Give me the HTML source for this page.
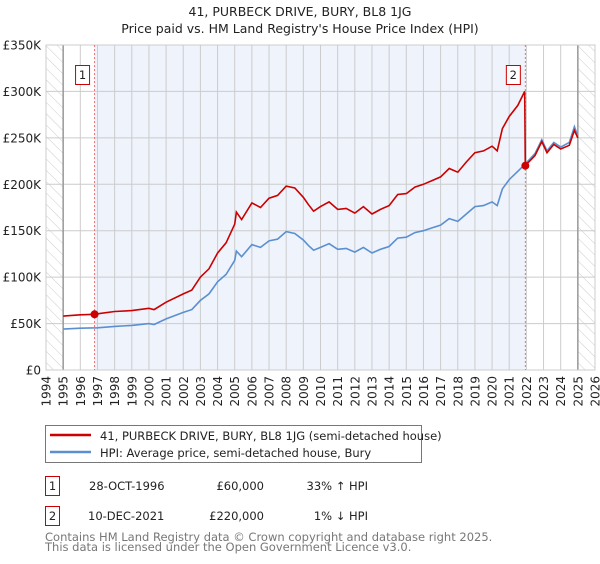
<!DOCTYPE html>
<html><head><meta charset="utf-8"><style>
body{margin:0;background:#fff;font-family:"DejaVu Sans","Liberation Sans",sans-serif;}
svg text{font-family:"DejaVu Sans","Liberation Sans",sans-serif;}
</style></head><body>
<svg id="chart" width="600" height="560" xmlns="http://www.w3.org/2000/svg">
<defs><pattern id="hatch" width="8" height="8" patternUnits="userSpaceOnUse" patternTransform="rotate(-45)"><line x1="0" y1="0" x2="0" y2="8" stroke="#ccc" stroke-width="1"/></pattern></defs>
<text x="300" y="16" text-anchor="middle" font-size="12.5" fill="#222">41, PURBECK DRIVE, BURY, BL8 1JG</text>
<text x="300" y="33" text-anchor="middle" font-size="12.5" fill="#222">Price paid vs. HM Land Registry's House Price Index (HPI)</text>
<g id="plot"></g>
<g>
<rect x="45.5" y="425.5" width="376" height="37" fill="#fff" stroke="#777"/>
<line x1="50" y1="435" x2="91" y2="435" stroke="#cc0000" stroke-width="2.5"/>
<text x="100" y="440" font-size="11.5" fill="#222">41, PURBECK DRIVE, BURY, BL8 1JG (semi-detached house)</text>
<line x1="50" y1="452" x2="91" y2="452" stroke="#5b8fd0" stroke-width="2.5"/>
<text x="100" y="457" font-size="11.5" fill="#222">HPI: Average price, semi-detached house, Bury</text>
</g>
<g font-size="11.5" fill="#222">
<rect x="45.5" y="476.5" width="14" height="19" fill="#fff" stroke="#cc0000"/>
<text x="52.5" y="490" text-anchor="middle">1</text>
<text x="89" y="490">28-OCT-1996</text>
<text x="264" y="490" text-anchor="end">£60,000</text>
<text x="368" y="490" text-anchor="end">33% ↑ HPI</text>
<rect x="45.5" y="506.5" width="14" height="19" fill="#fff" stroke="#cc0000"/>
<text x="52.5" y="520" text-anchor="middle">2</text>
<text x="88" y="520">10-DEC-2021</text>
<text x="264" y="520" text-anchor="end">£220,000</text>
<text x="368" y="520" text-anchor="end">1% ↓ HPI</text>
</g>
<text x="45" y="541" font-size="11.5" fill="#777">Contains HM Land Registry data © Crown copyright and database right 2025.</text>
<text x="45" y="551" font-size="11.5" fill="#777">This data is licensed under the Open Government Licence v3.0.</text>
</svg>
<script>
const yearTicks=[1994,1995,1996,1997,1998,1999,2000,2001,2002,2003,2004,2005,2006,2007,2008,2009,2010,2011,2012,2013,2014,2015,2016,2017,2018,2019,2020,2021,2022,2023,2024,2025,2026];
const priceTicks=[0,50,100,150,200,250,300,350];
const priceLabels=["£0","£50K","£100K","£150K","£200K","£250K","£300K","£350K"];
const hpiDates=[1995,1996,1997,1998,1999,2000,2000.3,2001,2002,2002.5,2003,2003.5,2004,2004.5,2005,2005.1,2005.4,2006,2006.5,2007,2007.5,2008,2008.5,2009,2009.3,2009.6,2010,2010.5,2011,2011.5,2012,2012.5,2013,2013.5,2014,2014.5,2015,2015.5,2016,2016.5,2017,2017.5,2018,2018.5,2019,2019.5,2020,2020.3,2020.6,2021,2021.5,2021.94,2022.5,2022.9,2023.2,2023.6,2024,2024.5,2024.8,2025];
const hpiValues=[44,45,45.5,47,48,50,49,55,62,65,75,82,95,103,118,128,122,135,132,139,141,149,147,140,134,129,132,136,130,131,127,132,126,130,133,142,143,148,150,153,156,163,160,168,176,177,181,177,195,205,214,222,233,248,236,245,240,245,262,252];
const priceDates=[1995,1996,1996.83,1997,1998,1999,2000,2000.3,2001,2002,2002.5,2003,2003.5,2004,2004.5,2005,2005.1,2005.4,2006,2006.5,2007,2007.5,2008,2008.5,2009,2009.3,2009.6,2010,2010.5,2011,2011.5,2012,2012.5,2013,2013.5,2014,2014.5,2015,2015.5,2016,2016.5,2017,2017.5,2018,2018.5,2019,2019.5,2020,2020.3,2020.6,2021,2021.5,2021.9,2021.94,2022.5,2022.9,2023.2,2023.6,2024,2024.5,2024.8,2025];
const priceValues=[58,59.5,60,60.5,63,64,66.5,65,73,82,86,100,109,126,137,157,170,162,180,175,185,188,198,196,186,178,171,176,181,173,174,169,176,168,173,177,189,190,197,200,204,208,217,213,224,234,236,241,236,260,273,285,300,220,231,246,234,243,238,242,258,250];
const saleDates=[1996.83,2021.94];
const saleValues=[60,220];
const saleLabels=["1","2"];
const X0=46,X1=595,Y0=370,Y1=45;
const xs=d=>X0+(d-1994)/(2026-1994)*(X1-X0);
const ys=v=>Y0-v/350*(Y0-Y1);
const NS="http://www.w3.org/2000/svg";
const g=document.getElementById('plot');
function mk(t,a){const e=document.createElementNS(NS,t);for(const k in a)e.setAttribute(k,a[k]);g.appendChild(e);return e;}
// backgrounds
let e=mk('rect',{x:xs(saleDates[0]),y:Y1,width:xs(saleDates[1])-xs(saleDates[0]),height:Y0-Y1,fill:'#eef3fc'});


e=mk('rect',{x:X0,y:Y1,width:xs(1995)-X0,height:Y0-Y1,fill:'url(#hatch)'});


e=mk('rect',{x:xs(2025),y:Y1,width:X1-xs(2025),height:Y0-Y1,fill:'url(#hatch)'});


yearTicks.forEach(y=>{const l=mk('line',{x1:xs(y),x2:xs(y),y1:Y1,y2:Y0,stroke:'#ccc','stroke-width':1});


const t=mk('text',{x:0,y:0,'font-size':12,fill:'#222','text-anchor':'end',transform:`translate(${xs(y)+4.5},376) rotate(-90)`});
t.textContent=y;

});
priceTicks.forEach((p,i)=>{const l=mk('line',{x1:X0,x2:X1,y1:ys(p),y2:ys(p),stroke:'#ccc','stroke-width':1});


const t=mk('text',{x:41,y:ys(p)+4.5,'font-size':12,fill:'#222','text-anchor':'end'});
t.textContent=priceLabels[i];

});
e=mk('line',{x1:xs(1995),x2:xs(1995),y1:Y1,y2:Y0,stroke:'#999','stroke-width':1.5});


e=mk('line',{x1:xs(2025),x2:xs(2025),y1:Y1,y2:Y0,stroke:'#999','stroke-width':1.5});


e=mk('rect',{x:X0,y:Y1,width:X1-X0,height:Y0-Y1,fill:'none',stroke:'#ccc'});


saleDates.forEach((d,i)=>{const l=mk('line',{x1:xs(d),x2:xs(d),y1:Y1,y2:Y0,stroke:'#f07070','stroke-width':1,'stroke-dasharray':'2,2'});

});
const pts=(ds,vs)=>ds.map((d,i)=>xs(d).toFixed(1)+','+ys(vs[i]).toFixed(1)).join(' ');
e=mk('polyline',{points:pts(hpiDates,hpiValues),fill:'none',stroke:'#5b8fd0','stroke-width':1.6});


e=mk('polyline',{points:pts(priceDates,priceValues),fill:'none',stroke:'#cc0000','stroke-width':1.6});


saleDates.forEach((d,i)=>{const c=mk('circle',{cx:xs(d),cy:ys(saleValues[i]),r:4,fill:'#cc0000'});


const bx=xs(d)-12;
const r=mk('rect',{x:bx-7,y:65.5,width:14,height:19,fill:'#fff',stroke:'#cc0000'});


const t=mk('text',{x:bx,y:79,'font-size':11.5,fill:'#222','text-anchor':'middle'});
t.textContent=saleLabels[i];

});
</script>
</body></html>
